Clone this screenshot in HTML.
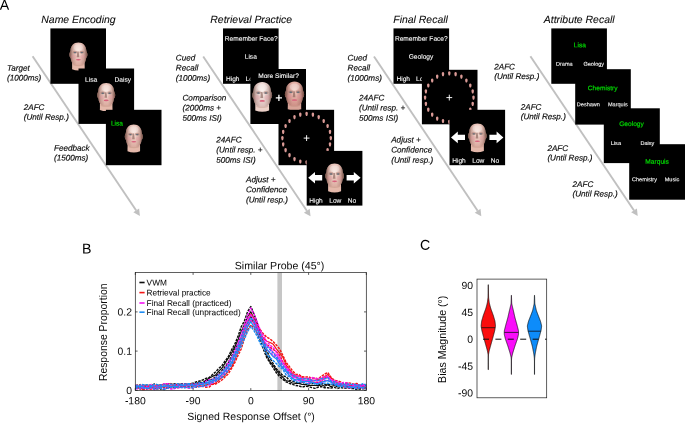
<!DOCTYPE html><html><head><meta charset="utf-8"><style>html,body{margin:0;padding:0;background:#fff;overflow:hidden}svg{display:block}text{font-family:"Liberation Sans",sans-serif}</style></head><body>
<svg width="685" height="423" viewBox="0 0 685 423">
<defs>
<radialGradient id="skin" cx="0.5" cy="0.34" r="0.7"><stop offset="0" stop-color="#f6e0d8"/><stop offset="0.55" stop-color="#e8c0b6"/><stop offset="1" stop-color="#d8a89c"/></radialGradient>
<radialGradient id="skin0" cx="0.5" cy="0.34" r="0.7"><stop offset="0" stop-color="#f8ece8"/><stop offset="0.55" stop-color="#ead2ce"/><stop offset="1" stop-color="#d8bab6"/></radialGradient>
<radialGradient id="skin2" cx="0.5" cy="0.34" r="0.7"><stop offset="0" stop-color="#f0ccc2"/><stop offset="0.55" stop-color="#dea69c"/><stop offset="1" stop-color="#cc8e84"/></radialGradient>
<linearGradient id="side" x1="0" x2="1" y1="0" y2="0"><stop offset="0" stop-color="#5c382e" stop-opacity="0.8"/><stop offset="0.2" stop-color="#5c382e" stop-opacity="0.18"/><stop offset="0.4" stop-color="#5c382e" stop-opacity="0"/><stop offset="0.6" stop-color="#5c382e" stop-opacity="0"/><stop offset="0.8" stop-color="#5c382e" stop-opacity="0.18"/><stop offset="1" stop-color="#5c382e" stop-opacity="0.8"/></linearGradient>
<filter id="soft" x="-2%" y="-2%" width="104%" height="104%"><feGaussianBlur stdDeviation="0.32"/></filter>
<filter id="fb" x="-20%" y="-20%" width="140%" height="140%"><feGaussianBlur stdDeviation="0.35"/></filter>
<g id="mf"><path d="M0,-2.1 C0.95,-2.1 1.25,-1.2 1.25,-0.3 C1.25,0.8 0.8,1.6 0.55,2.1 L-0.55,2.1 C-0.8,1.6 -1.25,0.8 -1.25,-0.3 C-1.25,-1.2 -0.95,-2.1 0,-2.1Z" fill="#da9a96"/></g>
</defs>
<g filter="url(#soft)">
<rect x="-5" y="-5" width="695" height="433" fill="#fff"/>
<text x="-0.2" y="9.65" transform="rotate(0.03 -0.2 9.65)" font-size="14.2" fill="#000" text-anchor="start">A</text>
<text x="82" y="253.5" transform="rotate(0.03 82 253.5)" font-size="14.2" fill="#000" text-anchor="start">B</text>
<text x="420" y="249.7" transform="rotate(0.03 420 249.7)" font-size="14.2" fill="#000" text-anchor="start">C</text>
<text x="41.3" y="23" transform="rotate(0.03 41.3 23)" font-size="10.45" fill="#0a0a0a" text-anchor="start" font-style="italic" stroke="#0a0a0a" stroke-width="0.08">Name Encoding</text>
<text x="210.3" y="23" transform="rotate(0.03 210.3 23)" font-size="10.45" fill="#0a0a0a" text-anchor="start" font-style="italic" stroke="#0a0a0a" stroke-width="0.08">Retrieval Practice</text>
<text x="393.3" y="23" transform="rotate(0.03 393.3 23)" font-size="10.45" fill="#0a0a0a" text-anchor="start" font-style="italic" stroke="#0a0a0a" stroke-width="0.08">Final Recall</text>
<text x="543.8" y="23" transform="rotate(0.03 543.8 23)" font-size="10.45" fill="#0a0a0a" text-anchor="start" font-style="italic" stroke="#0a0a0a" stroke-width="0.08">Attribute Recall</text>
<line x1="32.6" y1="56.2" x2="136.22" y2="210.42" stroke="#c0c0c0" stroke-width="1.9"/><polygon points="139.90,215.90 133.31,212.37 139.12,208.47" fill="#c0c0c0"/>
<line x1="203.2" y1="56.5" x2="306.82" y2="210.72" stroke="#c0c0c0" stroke-width="1.9"/><polygon points="310.50,216.20 303.91,212.67 309.72,208.77" fill="#c0c0c0"/>
<line x1="374" y1="56.5" x2="477.62" y2="210.72" stroke="#c0c0c0" stroke-width="1.9"/><polygon points="481.30,216.20 474.71,212.67 480.52,208.77" fill="#c0c0c0"/>
<line x1="530.4" y1="56.2" x2="634.02" y2="210.42" stroke="#c0c0c0" stroke-width="1.9"/><polygon points="637.70,215.90 631.11,212.37 636.92,208.47" fill="#c0c0c0"/>
<rect x="50.4" y="28.4" width="55.6" height="55.4" fill="#000"/>
<g transform="translate(78.4,54) scale(1.0)"><path d="M-6.2,6 L6.2,6 L6.3,15.3 Q0,17.7 -6.3,15.3Z" fill="#e4b8aa"/><ellipse cx="0" cy="10.6" rx="5.6" ry="1.6" fill="#a87868" opacity="0.28" filter="url(#fb)"/><path d="M0,-11.5 C4.8,-11.5 7.7,-8.2 7.9,-3.5 C8,-2 9,-1.6 9,0.5 C9,2.6 8.3,3.4 7.8,3.8 C7.5,6.6 6.7,8.8 4.8,10.2 C3,11.4 -3,11.4 -4.8,10.2 C-6.7,8.8 -7.5,6.6 -7.8,3.8 C-8.3,3.4 -9,2.6 -9,0.5 C-9,-1.6 -8,-2 -7.9,-3.5 C-7.7,-8.2 -4.8,-11.5 0,-11.5Z" fill="url(#skin)"/><path d="M0,-11.5 C4.8,-11.5 7.7,-8.2 7.9,-3.5 C8,-2 9,-1.6 9,0.5 C9,2.6 8.3,3.4 7.8,3.8 C7.5,6.6 6.7,8.8 4.8,10.2 C3,11.4 -3,11.4 -4.8,10.2 C-6.7,8.8 -7.5,6.6 -7.8,3.8 C-8.3,3.4 -9,2.6 -9,0.5 C-9,-1.6 -8,-2 -7.9,-3.5 C-7.7,-8.2 -4.8,-11.5 0,-11.5Z" fill="url(#side)"/><g filter="url(#fb)"><ellipse cx="0" cy="-6.5" rx="4.6" ry="3.2" fill="#fff" opacity="0.28"/><ellipse cx="-4.6" cy="2.6" rx="2.7" ry="2.2" fill="#e88a96" opacity="0.24"/><ellipse cx="4.6" cy="2.6" rx="2.7" ry="2.2" fill="#e88a96" opacity="0.24"/><ellipse cx="-3.4" cy="-1.7" rx="2.4" ry="1.3" fill="#9c6c62" opacity="0.55"/><ellipse cx="3.4" cy="-1.7" rx="2.4" ry="1.3" fill="#9c6c62" opacity="0.55"/><ellipse cx="-3.4" cy="-1.4" rx="1.3" ry="0.7" fill="#5e6c7a"/><ellipse cx="3.4" cy="-1.4" rx="1.3" ry="0.7" fill="#5e6c7a"/><path d="M-1.1,-2.4 L0.3,-2.4 L0.9,3.2 L-1.7,3.2Z" fill="#7e5850" opacity="0.6"/><ellipse cx="0" cy="5.8" rx="2.5" ry="0.8" fill="#d65c78" opacity="0.95"/></g></g>
<rect x="78.5" y="68.5" width="55.6" height="55.4" fill="#000"/>
<g transform="translate(106.2,94.6) scale(1.0)"><path d="M-6.2,6 L6.2,6 L6.3,15.3 Q0,17.7 -6.3,15.3Z" fill="#e4b8aa"/><ellipse cx="0" cy="10.6" rx="5.6" ry="1.6" fill="#a87868" opacity="0.28" filter="url(#fb)"/><path d="M0,-11.5 C4.8,-11.5 7.7,-8.2 7.9,-3.5 C8,-2 9,-1.6 9,0.5 C9,2.6 8.3,3.4 7.8,3.8 C7.5,6.6 6.7,8.8 4.8,10.2 C3,11.4 -3,11.4 -4.8,10.2 C-6.7,8.8 -7.5,6.6 -7.8,3.8 C-8.3,3.4 -9,2.6 -9,0.5 C-9,-1.6 -8,-2 -7.9,-3.5 C-7.7,-8.2 -4.8,-11.5 0,-11.5Z" fill="url(#skin)"/><path d="M0,-11.5 C4.8,-11.5 7.7,-8.2 7.9,-3.5 C8,-2 9,-1.6 9,0.5 C9,2.6 8.3,3.4 7.8,3.8 C7.5,6.6 6.7,8.8 4.8,10.2 C3,11.4 -3,11.4 -4.8,10.2 C-6.7,8.8 -7.5,6.6 -7.8,3.8 C-8.3,3.4 -9,2.6 -9,0.5 C-9,-1.6 -8,-2 -7.9,-3.5 C-7.7,-8.2 -4.8,-11.5 0,-11.5Z" fill="url(#side)"/><g filter="url(#fb)"><ellipse cx="0" cy="-6.5" rx="4.6" ry="3.2" fill="#fff" opacity="0.28"/><ellipse cx="-4.6" cy="2.6" rx="2.7" ry="2.2" fill="#e88a96" opacity="0.24"/><ellipse cx="4.6" cy="2.6" rx="2.7" ry="2.2" fill="#e88a96" opacity="0.24"/><ellipse cx="-3.4" cy="-1.7" rx="2.4" ry="1.3" fill="#9c6c62" opacity="0.55"/><ellipse cx="3.4" cy="-1.7" rx="2.4" ry="1.3" fill="#9c6c62" opacity="0.55"/><ellipse cx="-3.4" cy="-1.4" rx="1.3" ry="0.7" fill="#5e6c7a"/><ellipse cx="3.4" cy="-1.4" rx="1.3" ry="0.7" fill="#5e6c7a"/><path d="M-1.1,-2.4 L0.3,-2.4 L0.9,3.2 L-1.7,3.2Z" fill="#7e5850" opacity="0.6"/><ellipse cx="0" cy="5.8" rx="2.5" ry="0.8" fill="#d65c78" opacity="0.95"/></g></g>
<text x="91.1" y="81.65" transform="rotate(0.03 91.1 81.65)" font-size="6.6" fill="#fff" text-anchor="middle" stroke="#fff" stroke-width="0.09">Lisa</text>
<text x="122.8" y="81.65" transform="rotate(0.03 122.8 81.65)" font-size="6.6" fill="#fff" text-anchor="middle" stroke="#fff" stroke-width="0.09">Daisy</text>
<rect x="105.9" y="109.8" width="55.6" height="55.4" fill="#000"/>
<g transform="translate(133.8,136) scale(1.0)"><path d="M-6.2,6 L6.2,6 L6.3,15.3 Q0,17.7 -6.3,15.3Z" fill="#e4b8aa"/><ellipse cx="0" cy="10.6" rx="5.6" ry="1.6" fill="#a87868" opacity="0.28" filter="url(#fb)"/><path d="M0,-11.5 C4.8,-11.5 7.7,-8.2 7.9,-3.5 C8,-2 9,-1.6 9,0.5 C9,2.6 8.3,3.4 7.8,3.8 C7.5,6.6 6.7,8.8 4.8,10.2 C3,11.4 -3,11.4 -4.8,10.2 C-6.7,8.8 -7.5,6.6 -7.8,3.8 C-8.3,3.4 -9,2.6 -9,0.5 C-9,-1.6 -8,-2 -7.9,-3.5 C-7.7,-8.2 -4.8,-11.5 0,-11.5Z" fill="url(#skin)"/><path d="M0,-11.5 C4.8,-11.5 7.7,-8.2 7.9,-3.5 C8,-2 9,-1.6 9,0.5 C9,2.6 8.3,3.4 7.8,3.8 C7.5,6.6 6.7,8.8 4.8,10.2 C3,11.4 -3,11.4 -4.8,10.2 C-6.7,8.8 -7.5,6.6 -7.8,3.8 C-8.3,3.4 -9,2.6 -9,0.5 C-9,-1.6 -8,-2 -7.9,-3.5 C-7.7,-8.2 -4.8,-11.5 0,-11.5Z" fill="url(#side)"/><g filter="url(#fb)"><ellipse cx="0" cy="-6.5" rx="4.6" ry="3.2" fill="#fff" opacity="0.28"/><ellipse cx="-4.6" cy="2.6" rx="2.7" ry="2.2" fill="#e88a96" opacity="0.24"/><ellipse cx="4.6" cy="2.6" rx="2.7" ry="2.2" fill="#e88a96" opacity="0.24"/><ellipse cx="-3.4" cy="-1.7" rx="2.4" ry="1.3" fill="#9c6c62" opacity="0.55"/><ellipse cx="3.4" cy="-1.7" rx="2.4" ry="1.3" fill="#9c6c62" opacity="0.55"/><ellipse cx="-3.4" cy="-1.4" rx="1.3" ry="0.7" fill="#5e6c7a"/><ellipse cx="3.4" cy="-1.4" rx="1.3" ry="0.7" fill="#5e6c7a"/><path d="M-1.1,-2.4 L0.3,-2.4 L0.9,3.2 L-1.7,3.2Z" fill="#7e5850" opacity="0.6"/><ellipse cx="0" cy="5.8" rx="2.5" ry="0.8" fill="#d65c78" opacity="0.95"/></g></g>
<text x="117" y="125.45" transform="rotate(0.03 117 125.45)" font-size="6.6" fill="#00d800" text-anchor="middle" stroke="#00d800" stroke-width="0.2">Lisa</text>
<text x="7" y="70.7" transform="rotate(0.03 7 70.7)" font-size="8.15" fill="#0a0a0a" text-anchor="start" font-style="italic" stroke="#0a0a0a" stroke-width="0.16">Target</text><text x="7" y="80.45" transform="rotate(0.03 7 80.45)" font-size="8.15" fill="#0a0a0a" text-anchor="start" font-style="italic" stroke="#0a0a0a" stroke-width="0.16">(1000ms)</text>
<text x="23.7" y="110.0" transform="rotate(0.03 23.7 110.0)" font-size="8.15" fill="#0a0a0a" text-anchor="start" font-style="italic" stroke="#0a0a0a" stroke-width="0.16">2AFC</text><text x="23.7" y="119.75" transform="rotate(0.03 23.7 119.75)" font-size="8.15" fill="#0a0a0a" text-anchor="start" font-style="italic" stroke="#0a0a0a" stroke-width="0.16">(Until Resp.)</text>
<text x="54" y="150.7" transform="rotate(0.03 54 150.7)" font-size="8.15" fill="#0a0a0a" text-anchor="start" font-style="italic" stroke="#0a0a0a" stroke-width="0.16">Feedback</text><text x="54" y="160.45" transform="rotate(0.03 54 160.45)" font-size="8.15" fill="#0a0a0a" text-anchor="start" font-style="italic" stroke="#0a0a0a" stroke-width="0.16">(1500ms)</text>
<rect x="223" y="28.4" width="55.6" height="55.4" fill="#000"/>
<text x="251.2" y="40.75" transform="rotate(0.03 251.2 40.75)" font-size="6.6" fill="#fff" text-anchor="middle" stroke="#fff" stroke-width="0.09">Remember Face?</text>
<text x="250.8" y="58.85" transform="rotate(0.03 250.8 58.85)" font-size="6.6" fill="#fff" text-anchor="middle" stroke="#fff" stroke-width="0.09">Lisa</text>
<text x="232.7" y="80.95" transform="rotate(0.03 232.7 80.95)" font-size="6.6" fill="#fff" text-anchor="middle" stroke="#fff" stroke-width="0.09">High</text>
<text x="245.6" y="80.9" transform="rotate(0.03 245.6 80.9)" font-size="6.6" fill="#fff" text-anchor="start" stroke="#fff" stroke-width="0.09">Low</text>
<rect x="250.4" y="69.0" width="55.6" height="55" fill="#000"/>
<text x="278.5" y="78.05" transform="rotate(0.03 278.5 78.05)" font-size="6.6" fill="#fff" text-anchor="middle" stroke="#fff" stroke-width="0.09">More Similar?</text>
<g transform="translate(262.2,94.55) scale(1.1)"><path d="M-6.2,6 L6.2,6 L6.3,14.4 Q0,16.8 -6.3,14.4Z" fill="#ecd0c8"/><ellipse cx="0" cy="10.6" rx="5.6" ry="1.6" fill="#a87868" opacity="0.28" filter="url(#fb)"/><path d="M0,-11.5 C4.8,-11.5 7.7,-8.2 7.9,-3.5 C8,-2 9,-1.6 9,0.5 C9,2.6 8.3,3.4 7.8,3.8 C7.5,6.6 6.7,8.8 4.8,10.2 C3,11.4 -3,11.4 -4.8,10.2 C-6.7,8.8 -7.5,6.6 -7.8,3.8 C-8.3,3.4 -9,2.6 -9,0.5 C-9,-1.6 -8,-2 -7.9,-3.5 C-7.7,-8.2 -4.8,-11.5 0,-11.5Z" fill="url(#skin0)"/><path d="M0,-11.5 C4.8,-11.5 7.7,-8.2 7.9,-3.5 C8,-2 9,-1.6 9,0.5 C9,2.6 8.3,3.4 7.8,3.8 C7.5,6.6 6.7,8.8 4.8,10.2 C3,11.4 -3,11.4 -4.8,10.2 C-6.7,8.8 -7.5,6.6 -7.8,3.8 C-8.3,3.4 -9,2.6 -9,0.5 C-9,-1.6 -8,-2 -7.9,-3.5 C-7.7,-8.2 -4.8,-11.5 0,-11.5Z" fill="url(#side)"/><g filter="url(#fb)"><ellipse cx="0" cy="-6.5" rx="4.6" ry="3.2" fill="#fff" opacity="0.28"/><ellipse cx="-4.6" cy="2.6" rx="2.7" ry="2.2" fill="#e88a96" opacity="0.24"/><ellipse cx="4.6" cy="2.6" rx="2.7" ry="2.2" fill="#e88a96" opacity="0.24"/><ellipse cx="-3.4" cy="-1.7" rx="2.4" ry="1.3" fill="#9c6c62" opacity="0.55"/><ellipse cx="3.4" cy="-1.7" rx="2.4" ry="1.3" fill="#9c6c62" opacity="0.55"/><ellipse cx="-3.4" cy="-1.4" rx="1.3" ry="0.7" fill="#5e6c7a"/><ellipse cx="3.4" cy="-1.4" rx="1.3" ry="0.7" fill="#5e6c7a"/><path d="M-1.1,-2.4 L0.3,-2.4 L0.9,3.2 L-1.7,3.2Z" fill="#7e5850" opacity="0.6"/><ellipse cx="0" cy="5.8" rx="2.5" ry="0.8" fill="#d65c78" opacity="0.95"/></g></g>
<g transform="translate(294.5,93.8) scale(1.07)"><path d="M-6.2,6 L6.2,6 L6.3,14.4 Q0,16.8 -6.3,14.4Z" fill="#d8a498"/><ellipse cx="0" cy="10.6" rx="5.6" ry="1.6" fill="#a87868" opacity="0.28" filter="url(#fb)"/><path d="M0,-11.5 C4.8,-11.5 7.7,-8.2 7.9,-3.5 C8,-2 9,-1.6 9,0.5 C9,2.6 8.3,3.4 7.8,3.8 C7.5,6.6 6.7,8.8 4.8,10.2 C3,11.4 -3,11.4 -4.8,10.2 C-6.7,8.8 -7.5,6.6 -7.8,3.8 C-8.3,3.4 -9,2.6 -9,0.5 C-9,-1.6 -8,-2 -7.9,-3.5 C-7.7,-8.2 -4.8,-11.5 0,-11.5Z" fill="url(#skin2)"/><path d="M0,-11.5 C4.8,-11.5 7.7,-8.2 7.9,-3.5 C8,-2 9,-1.6 9,0.5 C9,2.6 8.3,3.4 7.8,3.8 C7.5,6.6 6.7,8.8 4.8,10.2 C3,11.4 -3,11.4 -4.8,10.2 C-6.7,8.8 -7.5,6.6 -7.8,3.8 C-8.3,3.4 -9,2.6 -9,0.5 C-9,-1.6 -8,-2 -7.9,-3.5 C-7.7,-8.2 -4.8,-11.5 0,-11.5Z" fill="url(#side)"/><g filter="url(#fb)"><ellipse cx="0" cy="-6.5" rx="4.6" ry="3.2" fill="#fff" opacity="0.28"/><ellipse cx="-4.6" cy="2.6" rx="2.7" ry="2.2" fill="#e88a96" opacity="0.24"/><ellipse cx="4.6" cy="2.6" rx="2.7" ry="2.2" fill="#e88a96" opacity="0.24"/><ellipse cx="-3.4" cy="-1.7" rx="2.4" ry="1.3" fill="#9c6c62" opacity="0.55"/><ellipse cx="3.4" cy="-1.7" rx="2.4" ry="1.3" fill="#9c6c62" opacity="0.55"/><ellipse cx="-3.4" cy="-1.4" rx="1.3" ry="0.7" fill="#5e6c7a"/><ellipse cx="3.4" cy="-1.4" rx="1.3" ry="0.7" fill="#5e6c7a"/><path d="M-1.1,-2.4 L0.3,-2.4 L0.9,3.2 L-1.7,3.2Z" fill="#7e5850" opacity="0.6"/><ellipse cx="0" cy="5.8" rx="2.5" ry="0.8" fill="#d65c78" opacity="0.95"/></g></g>
<path d="M275.79999999999995,97.9 H282.0 M278.9,94.80000000000001 V101.0" stroke="#fff" stroke-width="1.3"/>
<rect x="278.5" y="109.8" width="55.6" height="55.4" fill="#000"/>
<use href="#mf" x="330.8" y="138.1"/><use href="#mf" x="330.0" y="144.4"/><use href="#mf" x="327.6" y="150.2"/><use href="#mf" x="323.7" y="155.2"/><use href="#mf" x="318.7" y="159.1"/><use href="#mf" x="312.9" y="161.5"/><use href="#mf" x="306.6" y="162.3"/><use href="#mf" x="300.3" y="161.5"/><use href="#mf" x="294.5" y="159.1"/><use href="#mf" x="289.5" y="155.2"/><use href="#mf" x="285.6" y="150.2"/><use href="#mf" x="283.2" y="144.4"/><use href="#mf" x="282.4" y="138.1"/><use href="#mf" x="283.2" y="131.8"/><use href="#mf" x="285.6" y="126.0"/><use href="#mf" x="289.5" y="121.0"/><use href="#mf" x="294.5" y="117.1"/><use href="#mf" x="300.3" y="114.7"/><use href="#mf" x="306.6" y="113.9"/><use href="#mf" x="312.9" y="114.7"/><use href="#mf" x="318.7" y="117.1"/><use href="#mf" x="323.7" y="121.0"/><use href="#mf" x="327.6" y="126.0"/><use href="#mf" x="330.0" y="131.8"/>
<path d="M303.70000000000005,138.1 H309.5 M306.6,135.2 V141.0" stroke="#fff" stroke-width="0.95"/>
<rect x="306.7" y="150.9" width="55.7" height="54.7" fill="#000"/>
<polygon points="322.2,175.1 315.0,175.1 315.0,172.0 308.2,177.8 315.0,183.6 315.0,180.5 322.2,180.5" fill="#fff"/>
<polygon points="346.6,175.1 353.8,175.1 353.8,172.0 360.6,177.8 353.8,183.6 353.8,180.5 346.6,180.5" fill="#fff"/>
<g transform="translate(334.6,175.4) scale(1.03)"><path d="M-6.2,6 L6.2,6 L6.3,15.3 Q0,17.7 -6.3,15.3Z" fill="#e4b8aa"/><ellipse cx="0" cy="10.6" rx="5.6" ry="1.6" fill="#a87868" opacity="0.28" filter="url(#fb)"/><path d="M0,-11.5 C4.8,-11.5 7.7,-8.2 7.9,-3.5 C8,-2 9,-1.6 9,0.5 C9,2.6 8.3,3.4 7.8,3.8 C7.5,6.6 6.7,8.8 4.8,10.2 C3,11.4 -3,11.4 -4.8,10.2 C-6.7,8.8 -7.5,6.6 -7.8,3.8 C-8.3,3.4 -9,2.6 -9,0.5 C-9,-1.6 -8,-2 -7.9,-3.5 C-7.7,-8.2 -4.8,-11.5 0,-11.5Z" fill="url(#skin)"/><path d="M0,-11.5 C4.8,-11.5 7.7,-8.2 7.9,-3.5 C8,-2 9,-1.6 9,0.5 C9,2.6 8.3,3.4 7.8,3.8 C7.5,6.6 6.7,8.8 4.8,10.2 C3,11.4 -3,11.4 -4.8,10.2 C-6.7,8.8 -7.5,6.6 -7.8,3.8 C-8.3,3.4 -9,2.6 -9,0.5 C-9,-1.6 -8,-2 -7.9,-3.5 C-7.7,-8.2 -4.8,-11.5 0,-11.5Z" fill="url(#side)"/><g filter="url(#fb)"><ellipse cx="0" cy="-6.5" rx="4.6" ry="3.2" fill="#fff" opacity="0.28"/><ellipse cx="-4.6" cy="2.6" rx="2.7" ry="2.2" fill="#e88a96" opacity="0.24"/><ellipse cx="4.6" cy="2.6" rx="2.7" ry="2.2" fill="#e88a96" opacity="0.24"/><ellipse cx="-3.4" cy="-1.7" rx="2.4" ry="1.3" fill="#9c6c62" opacity="0.55"/><ellipse cx="3.4" cy="-1.7" rx="2.4" ry="1.3" fill="#9c6c62" opacity="0.55"/><ellipse cx="-3.4" cy="-1.4" rx="1.3" ry="0.7" fill="#5e6c7a"/><ellipse cx="3.4" cy="-1.4" rx="1.3" ry="0.7" fill="#5e6c7a"/><path d="M-1.1,-2.4 L0.3,-2.4 L0.9,3.2 L-1.7,3.2Z" fill="#7e5850" opacity="0.6"/><ellipse cx="0" cy="5.8" rx="2.5" ry="0.8" fill="#d65c78" opacity="0.95"/></g></g>
<text x="316" y="202.85" transform="rotate(0.03 316 202.85)" font-size="6.6" fill="#fff" text-anchor="middle" stroke="#fff" stroke-width="0.09">High</text>
<text x="335.3" y="202.85" transform="rotate(0.03 335.3 202.85)" font-size="6.6" fill="#fff" text-anchor="middle" stroke="#fff" stroke-width="0.09">Low</text>
<text x="352" y="202.85" transform="rotate(0.03 352 202.85)" font-size="6.6" fill="#fff" text-anchor="middle" stroke="#fff" stroke-width="0.09">No</text>
<text x="175.8" y="60.5" transform="rotate(0.03 175.8 60.5)" font-size="8.15" fill="#0a0a0a" text-anchor="start" font-style="italic" stroke="#0a0a0a" stroke-width="0.16">Cued</text><text x="175.8" y="70.4" transform="rotate(0.03 175.8 70.4)" font-size="8.15" fill="#0a0a0a" text-anchor="start" font-style="italic" stroke="#0a0a0a" stroke-width="0.16">Recall</text><text x="175.8" y="80.7" transform="rotate(0.03 175.8 80.7)" font-size="8.15" fill="#0a0a0a" text-anchor="start" font-style="italic" stroke="#0a0a0a" stroke-width="0.16">(1000ms)</text>
<text x="182.5" y="100.6" transform="rotate(0.03 182.5 100.6)" font-size="8.15" fill="#0a0a0a" text-anchor="start" font-style="italic" stroke="#0a0a0a" stroke-width="0.16">Comparison</text><text x="182.5" y="110.5" transform="rotate(0.03 182.5 110.5)" font-size="8.15" fill="#0a0a0a" text-anchor="start" font-style="italic" stroke="#0a0a0a" stroke-width="0.16">(2000ms +</text><text x="182.5" y="120.8" transform="rotate(0.03 182.5 120.8)" font-size="8.15" fill="#0a0a0a" text-anchor="start" font-style="italic" stroke="#0a0a0a" stroke-width="0.16">500ms ISI)</text>
<text x="216.3" y="142.6" transform="rotate(0.03 216.3 142.6)" font-size="8.15" fill="#0a0a0a" text-anchor="start" font-style="italic" stroke="#0a0a0a" stroke-width="0.16">24AFC</text><text x="216.3" y="152.5" transform="rotate(0.03 216.3 152.5)" font-size="8.15" fill="#0a0a0a" text-anchor="start" font-style="italic" stroke="#0a0a0a" stroke-width="0.16">(Until resp. +</text><text x="216.3" y="162.8" transform="rotate(0.03 216.3 162.8)" font-size="8.15" fill="#0a0a0a" text-anchor="start" font-style="italic" stroke="#0a0a0a" stroke-width="0.16">500ms ISI)</text>
<text x="246" y="182.3" transform="rotate(0.03 246 182.3)" font-size="8.15" fill="#0a0a0a" text-anchor="start" font-style="italic" stroke="#0a0a0a" stroke-width="0.16">Adjust +</text><text x="246" y="192.2" transform="rotate(0.03 246 192.2)" font-size="8.15" fill="#0a0a0a" text-anchor="start" font-style="italic" stroke="#0a0a0a" stroke-width="0.16">Confidence</text><text x="246" y="202.5" transform="rotate(0.03 246 202.5)" font-size="8.15" fill="#0a0a0a" text-anchor="start" font-style="italic" stroke="#0a0a0a" stroke-width="0.16">(Until resp.)</text>
<rect x="393.5" y="28.4" width="55.6" height="55.4" fill="#000"/>
<text x="421.3" y="40.75" transform="rotate(0.03 421.3 40.75)" font-size="6.6" fill="#fff" text-anchor="middle" stroke="#fff" stroke-width="0.09">Remember Face?</text>
<text x="421" y="58.85" transform="rotate(0.03 421 58.85)" font-size="6.6" fill="#fff" text-anchor="middle" stroke="#fff" stroke-width="0.09">Geology</text>
<text x="403.2" y="80.95" transform="rotate(0.03 403.2 80.95)" font-size="6.6" fill="#fff" text-anchor="middle" stroke="#fff" stroke-width="0.09">High</text>
<text x="416" y="80.9" transform="rotate(0.03 416 80.9)" font-size="6.6" fill="#fff" text-anchor="start" stroke="#fff" stroke-width="0.09">Low</text>
<rect x="421.9" y="69.8" width="55.6" height="54.5" fill="#000"/>
<use href="#mf" x="473.5" y="97.6"/><use href="#mf" x="472.7" y="103.9"/><use href="#mf" x="470.3" y="109.7"/><use href="#mf" x="466.4" y="114.7"/><use href="#mf" x="461.4" y="118.6"/><use href="#mf" x="455.6" y="121.0"/><use href="#mf" x="449.3" y="121.8"/><use href="#mf" x="443.0" y="121.0"/><use href="#mf" x="437.2" y="118.6"/><use href="#mf" x="432.2" y="114.7"/><use href="#mf" x="428.3" y="109.7"/><use href="#mf" x="425.9" y="103.9"/><use href="#mf" x="425.1" y="97.6"/><use href="#mf" x="425.9" y="91.3"/><use href="#mf" x="428.3" y="85.5"/><use href="#mf" x="432.2" y="80.5"/><use href="#mf" x="437.2" y="76.6"/><use href="#mf" x="443.0" y="74.2"/><use href="#mf" x="449.3" y="73.4"/><use href="#mf" x="455.6" y="74.2"/><use href="#mf" x="461.4" y="76.6"/><use href="#mf" x="466.4" y="80.5"/><use href="#mf" x="470.3" y="85.5"/><use href="#mf" x="472.7" y="91.3"/>
<path d="M446.40000000000003,97.6 H452.2 M449.3,94.69999999999999 V100.5" stroke="#fff" stroke-width="0.95"/>
<rect x="449.5" y="109.8" width="55.6" height="55.4" fill="#000"/>
<polygon points="465.0,134.7 457.8,134.7 457.8,131.6 451.0,137.4 457.8,143.2 457.8,140.1 465.0,140.1" fill="#fff"/>
<polygon points="489.4,134.7 496.6,134.7 496.6,131.6 503.4,137.4 496.6,143.2 496.6,140.1 489.4,140.1" fill="#fff"/>
<g transform="translate(477.4,135.3) scale(1.03)"><path d="M-6.2,6 L6.2,6 L6.3,15.3 Q0,17.7 -6.3,15.3Z" fill="#e4b8aa"/><ellipse cx="0" cy="10.6" rx="5.6" ry="1.6" fill="#a87868" opacity="0.28" filter="url(#fb)"/><path d="M0,-11.5 C4.8,-11.5 7.7,-8.2 7.9,-3.5 C8,-2 9,-1.6 9,0.5 C9,2.6 8.3,3.4 7.8,3.8 C7.5,6.6 6.7,8.8 4.8,10.2 C3,11.4 -3,11.4 -4.8,10.2 C-6.7,8.8 -7.5,6.6 -7.8,3.8 C-8.3,3.4 -9,2.6 -9,0.5 C-9,-1.6 -8,-2 -7.9,-3.5 C-7.7,-8.2 -4.8,-11.5 0,-11.5Z" fill="url(#skin)"/><path d="M0,-11.5 C4.8,-11.5 7.7,-8.2 7.9,-3.5 C8,-2 9,-1.6 9,0.5 C9,2.6 8.3,3.4 7.8,3.8 C7.5,6.6 6.7,8.8 4.8,10.2 C3,11.4 -3,11.4 -4.8,10.2 C-6.7,8.8 -7.5,6.6 -7.8,3.8 C-8.3,3.4 -9,2.6 -9,0.5 C-9,-1.6 -8,-2 -7.9,-3.5 C-7.7,-8.2 -4.8,-11.5 0,-11.5Z" fill="url(#side)"/><g filter="url(#fb)"><ellipse cx="0" cy="-6.5" rx="4.6" ry="3.2" fill="#fff" opacity="0.28"/><ellipse cx="-4.6" cy="2.6" rx="2.7" ry="2.2" fill="#e88a96" opacity="0.24"/><ellipse cx="4.6" cy="2.6" rx="2.7" ry="2.2" fill="#e88a96" opacity="0.24"/><ellipse cx="-3.4" cy="-1.7" rx="2.4" ry="1.3" fill="#9c6c62" opacity="0.55"/><ellipse cx="3.4" cy="-1.7" rx="2.4" ry="1.3" fill="#9c6c62" opacity="0.55"/><ellipse cx="-3.4" cy="-1.4" rx="1.3" ry="0.7" fill="#5e6c7a"/><ellipse cx="3.4" cy="-1.4" rx="1.3" ry="0.7" fill="#5e6c7a"/><path d="M-1.1,-2.4 L0.3,-2.4 L0.9,3.2 L-1.7,3.2Z" fill="#7e5850" opacity="0.6"/><ellipse cx="0" cy="5.8" rx="2.5" ry="0.8" fill="#d65c78" opacity="0.95"/></g></g>
<text x="459" y="162.65" transform="rotate(0.03 459 162.65)" font-size="6.6" fill="#fff" text-anchor="middle" stroke="#fff" stroke-width="0.09">High</text>
<text x="478.3" y="162.65" transform="rotate(0.03 478.3 162.65)" font-size="6.6" fill="#fff" text-anchor="middle" stroke="#fff" stroke-width="0.09">Low</text>
<text x="495" y="162.65" transform="rotate(0.03 495 162.65)" font-size="6.6" fill="#fff" text-anchor="middle" stroke="#fff" stroke-width="0.09">No</text>
<text x="347.6" y="60.5" transform="rotate(0.03 347.6 60.5)" font-size="8.15" fill="#0a0a0a" text-anchor="start" font-style="italic" stroke="#0a0a0a" stroke-width="0.16">Cued</text><text x="347.6" y="70.4" transform="rotate(0.03 347.6 70.4)" font-size="8.15" fill="#0a0a0a" text-anchor="start" font-style="italic" stroke="#0a0a0a" stroke-width="0.16">Recall</text><text x="347.6" y="80.7" transform="rotate(0.03 347.6 80.7)" font-size="8.15" fill="#0a0a0a" text-anchor="start" font-style="italic" stroke="#0a0a0a" stroke-width="0.16">(1000ms)</text>
<text x="359" y="100.6" transform="rotate(0.03 359 100.6)" font-size="8.15" fill="#0a0a0a" text-anchor="start" font-style="italic" stroke="#0a0a0a" stroke-width="0.16">24AFC</text><text x="359" y="110.5" transform="rotate(0.03 359 110.5)" font-size="8.15" fill="#0a0a0a" text-anchor="start" font-style="italic" stroke="#0a0a0a" stroke-width="0.16">(Until resp. +</text><text x="359" y="120.8" transform="rotate(0.03 359 120.8)" font-size="8.15" fill="#0a0a0a" text-anchor="start" font-style="italic" stroke="#0a0a0a" stroke-width="0.16">500ms ISI)</text>
<text x="391.2" y="142.6" transform="rotate(0.03 391.2 142.6)" font-size="8.15" fill="#0a0a0a" text-anchor="start" font-style="italic" stroke="#0a0a0a" stroke-width="0.16">Adjust +</text><text x="391.2" y="152.5" transform="rotate(0.03 391.2 152.5)" font-size="8.15" fill="#0a0a0a" text-anchor="start" font-style="italic" stroke="#0a0a0a" stroke-width="0.16">Confidence</text><text x="391.2" y="162.8" transform="rotate(0.03 391.2 162.8)" font-size="8.15" fill="#0a0a0a" text-anchor="start" font-style="italic" stroke="#0a0a0a" stroke-width="0.16">(Until resp.)</text>
<rect x="551.3" y="28.4" width="55.6" height="55.4" fill="#000"/>
<rect x="575.2" y="69.2" width="55.6" height="55.4" fill="#000"/>
<rect x="603.8" y="108.3" width="56" height="54.8" fill="#000"/>
<rect x="629.2" y="144.2" width="60" height="55.5" fill="#000"/>
<text x="579.9" y="47.15" transform="rotate(0.03 579.9 47.15)" font-size="6.6" fill="#00d800" text-anchor="middle" stroke="#00d800" stroke-width="0.2">Lisa</text>
<text x="564.3" y="65.85" transform="rotate(0.03 564.3 65.85)" font-size="5.55" fill="#fff" text-anchor="middle" stroke="#fff" stroke-width="0.09">Drama</text>
<text x="593.8" y="65.85" transform="rotate(0.03 593.8 65.85)" font-size="5.55" fill="#fff" text-anchor="middle" stroke="#fff" stroke-width="0.09">Geology</text>
<text x="602.7" y="90.15" transform="rotate(0.03 602.7 90.15)" font-size="6.6" fill="#00d800" text-anchor="middle" stroke="#00d800" stroke-width="0.2">Chemistry</text>
<text x="588.4" y="106.15" transform="rotate(0.03 588.4 106.15)" font-size="5.55" fill="#fff" text-anchor="middle" stroke="#fff" stroke-width="0.09">Deshawn</text>
<text x="617.8" y="106.15" transform="rotate(0.03 617.8 106.15)" font-size="5.55" fill="#fff" text-anchor="middle" stroke="#fff" stroke-width="0.09">Marquis</text>
<text x="631.5" y="126.05" transform="rotate(0.03 631.5 126.05)" font-size="6.6" fill="#00d800" text-anchor="middle" stroke="#00d800" stroke-width="0.2">Geology</text>
<text x="615.9" y="144.95" transform="rotate(0.03 615.9 144.95)" font-size="5.55" fill="#fff" text-anchor="middle" stroke="#fff" stroke-width="0.09">Lisa</text>
<text x="647.4" y="144.95" transform="rotate(0.03 647.4 144.95)" font-size="5.55" fill="#fff" text-anchor="middle" stroke="#fff" stroke-width="0.09">Daisy</text>
<text x="657.1" y="163.85" transform="rotate(0.03 657.1 163.85)" font-size="6.6" fill="#00d800" text-anchor="middle" stroke="#00d800" stroke-width="0.2">Marquis</text>
<text x="644.5" y="181.15" transform="rotate(0.03 644.5 181.15)" font-size="5.55" fill="#fff" text-anchor="middle" stroke="#fff" stroke-width="0.09">Chemistry</text>
<text x="672" y="181.15" transform="rotate(0.03 672 181.15)" font-size="5.55" fill="#fff" text-anchor="middle" stroke="#fff" stroke-width="0.09">Music</text>
<text x="494.2" y="69.5" transform="rotate(0.03 494.2 69.5)" font-size="8.15" fill="#0a0a0a" text-anchor="start" font-style="italic" stroke="#0a0a0a" stroke-width="0.16">2AFC</text><text x="494.2" y="79.1" transform="rotate(0.03 494.2 79.1)" font-size="8.15" fill="#0a0a0a" text-anchor="start" font-style="italic" stroke="#0a0a0a" stroke-width="0.16">(Until Resp.)</text>
<text x="520.7" y="109.7" transform="rotate(0.03 520.7 109.7)" font-size="8.15" fill="#0a0a0a" text-anchor="start" font-style="italic" stroke="#0a0a0a" stroke-width="0.16">2AFC</text><text x="520.7" y="119.2" transform="rotate(0.03 520.7 119.2)" font-size="8.15" fill="#0a0a0a" text-anchor="start" font-style="italic" stroke="#0a0a0a" stroke-width="0.16">(Until Resp.)</text>
<text x="547.4" y="151.1" transform="rotate(0.03 547.4 151.1)" font-size="8.15" fill="#0a0a0a" text-anchor="start" font-style="italic" stroke="#0a0a0a" stroke-width="0.16">2AFC</text><text x="547.4" y="160.5" transform="rotate(0.03 547.4 160.5)" font-size="8.15" fill="#0a0a0a" text-anchor="start" font-style="italic" stroke="#0a0a0a" stroke-width="0.16">(Until Resp.)</text>
<text x="572.5" y="187.0" transform="rotate(0.03 572.5 187.0)" font-size="8.15" fill="#0a0a0a" text-anchor="start" font-style="italic" stroke="#0a0a0a" stroke-width="0.16">2AFC</text><text x="572.5" y="196.5" transform="rotate(0.03 572.5 196.5)" font-size="8.15" fill="#0a0a0a" text-anchor="start" font-style="italic" stroke="#0a0a0a" stroke-width="0.16">(Until Resp.)</text>
<rect x="277.4" y="272.6" width="4.6" height="117.8" fill="#c6c6c6"/>
<g clip-path="none">
<polyline points="135.3,385.6 138.5,384.8 141.7,386.2 144.9,384.9 148.1,385.6 151.3,385.5 154.6,384.0 157.8,384.9 161.0,384.9 164.2,384.2 167.4,383.8 170.6,384.3 173.8,383.7 177.0,384.5 180.2,383.9 183.4,383.6 186.6,383.9 189.8,383.7 193.1,383.3 196.3,381.8 199.5,381.0 202.7,380.0 205.9,378.4 209.1,377.6 212.3,374.8 215.5,372.0 218.7,368.5 221.9,365.7 225.1,361.0 228.3,356.8 231.6,349.9 234.8,344.2 238.0,336.4 241.2,326.9 244.4,321.0 247.6,311.6 250.8,306.6 254.0,314.0 257.2,323.1 260.4,332.9 263.6,341.8 266.8,350.8 270.1,358.1 273.3,364.0 276.5,369.0 279.7,372.2 282.9,375.7 286.1,376.8 289.3,380.4 292.5,381.2 295.7,382.1 298.9,383.5 302.1,381.5 305.3,384.6 308.6,383.5 311.8,383.9 315.0,382.7 318.2,385.1 321.4,383.4 324.6,384.6 327.8,384.4 331.0,384.9 334.2,384.2 337.4,385.4 340.6,384.9 343.8,384.8 347.1,384.0 350.3,386.7 353.5,384.4 356.7,384.8 359.9,385.8 363.1,385.3 366.3,385.9" fill="none" stroke="#0c0c0c" stroke-width="1.45" stroke-linejoin="round" stroke-dasharray="2.6,1.0"/>
<polyline points="135.3,387.7 138.5,388.6 141.7,388.8 144.9,388.7 148.1,388.6 151.3,388.5 154.6,388.9 157.8,386.9 161.0,389.2 164.2,389.6 167.4,387.7 170.6,387.6 173.8,387.1 177.0,387.2 180.2,387.0 183.4,386.5 186.6,385.8 189.8,386.3 193.1,385.9 196.3,383.9 199.5,384.0 202.7,384.1 205.9,380.8 209.1,380.2 212.3,379.2 215.5,377.2 218.7,373.4 221.9,370.7 225.1,366.8 228.3,362.3 231.6,356.4 234.8,349.3 238.0,343.6 241.2,337.1 244.4,328.5 247.6,322.1 250.8,316.8 254.0,322.9 257.2,332.5 260.4,341.4 263.6,349.7 266.8,357.8 270.1,363.0 273.3,367.9 276.5,373.0 279.7,376.7 282.9,379.4 286.1,381.8 289.3,383.4 292.5,384.4 295.7,385.5 298.9,385.9 302.1,387.1 305.3,386.2 308.6,386.6 311.8,387.6 315.0,388.4 318.2,387.1 321.4,386.6 324.6,387.8 327.8,387.8 331.0,388.0 334.2,387.4 337.4,388.5 340.6,387.4 343.8,388.3 347.1,387.7 350.3,388.3 353.5,388.6 356.7,389.4 359.9,389.0 363.1,388.8 366.3,388.2" fill="none" stroke="#0c0c0c" stroke-width="1.45" stroke-linejoin="round" stroke-dasharray="2.6,1.0"/>
<polyline points="135.3,387.0 138.5,387.6 141.7,386.9 144.9,386.4 148.1,387.1 151.3,387.1 154.6,387.0 157.8,386.1 161.0,386.1 164.2,386.9 167.4,385.8 170.6,386.2 173.8,386.2 177.0,384.7 180.2,384.7 183.4,385.5 186.6,384.7 189.8,384.1 193.1,384.3 196.3,383.4 199.5,382.2 202.7,382.7 205.9,380.2 209.1,378.3 212.3,376.4 215.5,375.1 218.7,371.1 221.9,368.3 225.1,363.1 228.3,358.1 231.6,352.7 234.8,346.9 238.0,339.8 241.2,331.4 244.4,324.8 247.6,316.8 250.8,311.7 254.0,318.9 257.2,326.4 260.4,337.3 263.6,344.7 266.8,355.2 270.1,362.0 273.3,365.6 276.5,370.3 279.7,374.6 282.9,377.3 286.1,380.6 289.3,381.5 292.5,383.0 295.7,383.4 298.9,383.4 302.1,384.4 305.3,384.5 308.6,385.4 311.8,385.5 315.0,385.3 318.2,385.7 321.4,384.8 324.6,386.3 327.8,384.7 331.0,386.7 334.2,385.5 337.4,386.8 340.6,385.4 343.8,386.5 347.1,386.4 350.3,386.3 353.5,387.3 356.7,387.6 359.9,388.3 363.1,386.3 366.3,387.6" fill="none" stroke="#0c0c0c" stroke-width="1.2" stroke-linejoin="round"/>
<polyline points="135.3,386.0 138.5,385.7 141.7,384.3 144.9,386.6 148.1,385.3 151.3,385.6 154.6,384.9 157.8,386.3 161.0,385.3 164.2,384.4 167.4,383.8 170.6,383.6 173.8,385.1 177.0,384.4 180.2,384.5 183.4,385.2 186.6,385.3 189.8,383.9 193.1,384.2 196.3,384.3 199.5,383.3 202.7,384.4 205.9,383.0 209.1,382.7 212.3,381.7 215.5,380.0 218.7,378.3 221.9,375.7 225.1,372.4 228.3,367.1 231.6,363.2 234.8,355.9 238.0,348.5 241.2,340.3 244.4,330.0 247.6,321.5 250.8,313.3 254.0,318.9 257.2,324.7 260.4,330.0 263.6,334.2 266.8,337.2 270.1,339.1 273.3,341.7 276.5,345.2 279.7,349.1 282.9,355.4 286.1,362.4 289.3,366.5 292.5,370.9 295.7,374.1 298.9,374.7 302.1,376.8 305.3,377.1 308.6,376.8 311.8,378.5 315.0,377.9 318.2,378.9 321.4,376.3 324.6,374.1 327.8,372.5 331.0,377.2 334.2,380.2 337.4,380.9 340.6,381.9 343.8,383.9 347.1,382.7 350.3,383.1 353.5,384.3 356.7,383.5 359.9,385.3 363.1,385.0 366.3,384.4" fill="none" stroke="#f41414" stroke-width="1.45" stroke-linejoin="round" stroke-dasharray="2.6,1.0"/>
<polyline points="135.3,387.9 138.5,387.9 141.7,389.4 144.9,389.6 148.1,388.3 151.3,389.4 154.6,388.5 157.8,389.1 161.0,387.5 164.2,387.5 167.4,387.6 170.6,387.8 173.8,387.7 177.0,387.8 180.2,387.3 183.4,387.4 186.6,387.3 189.8,387.8 193.1,386.3 196.3,387.3 199.5,386.4 202.7,386.2 205.9,387.2 209.1,387.1 212.3,384.3 215.5,384.1 218.7,382.1 221.9,380.0 225.1,376.8 228.3,373.8 231.6,368.3 234.8,362.7 238.0,355.5 241.2,349.0 244.4,338.3 247.6,330.0 250.8,325.0 254.0,328.3 257.2,333.3 260.4,338.1 263.6,342.6 266.8,344.5 270.1,347.1 273.3,349.5 276.5,352.0 279.7,355.5 282.9,361.9 286.1,366.7 289.3,371.3 292.5,375.1 295.7,377.1 298.9,379.2 302.1,379.9 305.3,380.9 308.6,381.3 311.8,382.3 315.0,382.1 318.2,382.5 321.4,381.6 324.6,377.8 327.8,376.7 331.0,380.5 334.2,382.7 337.4,384.4 340.6,385.0 343.8,386.5 347.1,387.5 350.3,386.6 353.5,387.1 356.7,387.1 359.9,387.6 363.1,387.3 366.3,388.4" fill="none" stroke="#f41414" stroke-width="1.45" stroke-linejoin="round" stroke-dasharray="2.6,1.0"/>
<polyline points="135.3,386.8 138.5,387.7 141.7,388.6 144.9,387.4 148.1,386.1 151.3,388.0 154.6,386.2 157.8,387.1 161.0,386.8 164.2,386.4 167.4,386.2 170.6,386.8 173.8,386.0 177.0,385.8 180.2,385.5 183.4,386.4 186.6,385.0 189.8,384.7 193.1,384.4 196.3,386.7 199.5,385.6 202.7,386.6 205.9,384.8 209.1,384.0 212.3,384.1 215.5,383.1 218.7,380.2 221.9,377.5 225.1,375.2 228.3,370.9 231.6,367.3 234.8,359.9 238.0,352.1 241.2,343.7 244.4,333.7 247.6,326.3 250.8,320.3 254.0,322.8 257.2,329.2 260.4,334.2 263.6,338.2 266.8,341.2 270.1,342.5 273.3,344.3 276.5,349.2 279.7,352.8 282.9,357.3 286.1,364.8 289.3,369.0 292.5,373.3 295.7,375.9 298.9,376.1 302.1,377.3 305.3,378.7 308.6,378.4 311.8,380.3 315.0,380.3 318.2,379.4 321.4,378.7 324.6,376.4 327.8,374.5 331.0,378.1 334.2,381.0 337.4,382.7 340.6,384.1 343.8,384.7 347.1,385.0 350.3,385.4 353.5,384.8 356.7,385.0 359.9,385.4 363.1,386.2 366.3,386.8" fill="none" stroke="#f41414" stroke-width="1.2" stroke-linejoin="round"/>
<polyline points="135.3,385.1 138.5,385.9 141.7,385.4 144.9,386.6 148.1,385.7 151.3,384.5 154.6,385.9 157.8,386.1 161.0,385.1 164.2,383.8 167.4,383.8 170.6,384.8 173.8,384.7 177.0,384.4 180.2,384.8 183.4,384.1 186.6,384.3 189.8,384.9 193.1,384.2 196.3,383.8 199.5,383.8 202.7,383.4 205.9,381.4 209.1,379.7 212.3,379.7 215.5,377.9 218.7,374.8 221.9,372.2 225.1,368.6 228.3,362.4 231.6,358.1 234.8,351.1 238.0,343.1 241.2,334.5 244.4,324.8 247.6,315.2 250.8,308.1 254.0,314.1 257.2,322.0 260.4,330.3 263.6,336.0 266.8,341.6 270.1,345.0 273.3,347.8 276.5,352.1 279.7,356.9 282.9,362.3 286.1,366.7 289.3,370.6 292.5,374.2 295.7,375.8 298.9,376.1 302.1,378.4 305.3,378.1 308.6,378.9 311.8,377.5 315.0,378.4 318.2,378.7 321.4,378.2 324.6,376.6 327.8,376.2 331.0,379.6 334.2,380.7 337.4,381.6 340.6,383.4 343.8,382.5 347.1,383.0 350.3,384.8 353.5,384.5 356.7,384.7 359.9,385.1 363.1,384.7 366.3,386.0" fill="none" stroke="#f414f4" stroke-width="1.45" stroke-linejoin="round" stroke-dasharray="2.6,1.0"/>
<polyline points="135.3,388.9 138.5,388.6 141.7,388.2 144.9,388.6 148.1,388.7 151.3,388.0 154.6,389.6 157.8,387.7 161.0,388.3 164.2,388.8 167.4,388.1 170.6,388.9 173.8,388.9 177.0,387.7 180.2,387.9 183.4,386.9 186.6,387.9 189.8,388.0 193.1,387.7 196.3,385.8 199.5,386.5 202.7,386.4 205.9,386.0 209.1,385.1 212.3,383.2 215.5,381.2 218.7,378.5 221.9,375.7 225.1,372.7 228.3,368.9 231.6,363.8 234.8,358.5 238.0,350.5 241.2,341.7 244.4,333.7 247.6,325.1 250.8,320.3 254.0,323.8 257.2,331.0 260.4,337.9 263.6,343.5 266.8,349.8 270.1,352.2 273.3,355.6 276.5,357.3 279.7,362.7 282.9,367.5 286.1,371.0 289.3,375.9 292.5,376.9 295.7,380.0 298.9,380.6 302.1,381.8 305.3,381.1 308.6,383.3 311.8,381.8 315.0,383.0 318.2,382.7 321.4,382.9 324.6,380.6 327.8,380.3 331.0,382.0 334.2,384.2 337.4,385.0 340.6,385.2 343.8,386.5 347.1,387.4 350.3,387.9 353.5,387.0 356.7,387.9 359.9,387.3 363.1,388.1 366.3,388.9" fill="none" stroke="#f414f4" stroke-width="1.45" stroke-linejoin="round" stroke-dasharray="2.6,1.0"/>
<polyline points="135.3,386.6 138.5,386.0 141.7,387.2 144.9,387.7 148.1,387.5 151.3,386.4 154.6,387.2 157.8,386.9 161.0,386.1 164.2,386.4 167.4,386.2 170.6,386.5 173.8,386.4 177.0,385.8 180.2,385.8 183.4,385.4 186.6,386.0 189.8,385.4 193.1,385.2 196.3,385.2 199.5,384.5 202.7,383.7 205.9,383.5 209.1,382.6 212.3,381.9 215.5,379.3 218.7,377.2 221.9,374.4 225.1,371.0 228.3,365.5 231.6,358.8 234.8,353.6 238.0,346.2 241.2,337.6 244.4,329.4 247.6,320.4 250.8,314.6 254.0,319.8 257.2,326.5 260.4,333.6 263.6,339.9 266.8,345.2 270.1,348.3 273.3,352.4 276.5,354.9 279.7,359.9 282.9,364.5 286.1,368.6 289.3,372.6 292.5,376.5 295.7,377.7 298.9,378.4 302.1,379.9 305.3,381.2 308.6,380.1 311.8,380.4 315.0,380.4 318.2,380.8 321.4,380.2 324.6,378.6 327.8,377.5 331.0,380.2 334.2,382.3 337.4,383.9 340.6,383.5 343.8,384.8 347.1,384.6 350.3,386.8 353.5,385.6 356.7,386.1 359.9,386.6 363.1,385.7 366.3,386.5" fill="none" stroke="#f414f4" stroke-width="1.2" stroke-linejoin="round"/>
<polyline points="135.3,385.8 138.5,386.0 141.7,384.4 144.9,385.1 148.1,385.0 151.3,385.8 154.6,384.4 157.8,384.8 161.0,385.2 164.2,384.9 167.4,385.7 170.6,384.1 173.8,385.1 177.0,383.8 180.2,384.5 183.4,384.5 186.6,383.8 189.8,383.8 193.1,384.5 196.3,383.5 199.5,382.8 202.7,382.8 205.9,382.7 209.1,381.0 212.3,380.1 215.5,378.0 218.7,375.3 221.9,372.5 225.1,369.0 228.3,365.5 231.6,359.0 234.8,353.2 238.0,346.4 241.2,338.3 244.4,329.1 247.6,323.3 250.8,317.9 254.0,321.3 257.2,329.2 260.4,334.7 263.6,342.2 266.8,346.7 270.1,349.8 273.3,353.2 276.5,357.0 279.7,361.1 282.9,365.8 286.1,370.1 289.3,373.4 292.5,374.9 295.7,376.9 298.9,378.4 302.1,378.9 305.3,379.0 308.6,379.2 311.8,380.3 315.0,380.6 318.2,380.5 321.4,378.6 324.6,378.8 327.8,377.8 331.0,381.3 334.2,381.6 337.4,383.8 340.6,384.0 343.8,384.1 347.1,384.1 350.3,384.2 353.5,384.4 356.7,384.7 359.9,385.3 363.1,383.6 366.3,385.1" fill="none" stroke="#1c8cf4" stroke-width="1.45" stroke-linejoin="round" stroke-dasharray="2.6,1.0"/>
<polyline points="135.3,388.3 138.5,387.4 141.7,388.1 144.9,388.3 148.1,388.3 151.3,387.3 154.6,389.0 157.8,388.8 161.0,388.0 164.2,389.3 167.4,388.3 170.6,387.0 173.8,387.9 177.0,387.4 180.2,387.0 183.4,388.1 186.6,387.1 189.8,387.5 193.1,387.7 196.3,386.9 199.5,386.5 202.7,386.2 205.9,385.7 209.1,383.8 212.3,382.4 215.5,381.2 218.7,379.5 221.9,377.4 225.1,374.1 228.3,370.3 231.6,364.7 234.8,358.7 238.0,352.4 241.2,346.0 244.4,338.9 247.6,331.5 250.8,326.4 254.0,330.6 257.2,336.3 260.4,343.8 263.6,347.5 266.8,354.5 270.1,357.9 273.3,360.8 276.5,363.7 279.7,366.9 282.9,369.4 286.1,374.9 289.3,376.8 292.5,380.0 295.7,381.2 298.9,382.8 302.1,381.4 305.3,383.2 308.6,383.9 311.8,382.4 315.0,384.0 318.2,384.0 321.4,383.9 324.6,383.1 327.8,383.2 331.0,384.0 334.2,384.5 337.4,386.0 340.6,386.7 343.8,386.3 347.1,387.8 350.3,386.7 353.5,387.8 356.7,388.5 359.9,387.7 363.1,388.0 366.3,388.6" fill="none" stroke="#1c8cf4" stroke-width="1.45" stroke-linejoin="round" stroke-dasharray="2.6,1.0"/>
<polyline points="135.3,387.1 138.5,386.6 141.7,386.3 144.9,387.6 148.1,388.6 151.3,385.6 154.6,387.0 157.8,386.9 161.0,386.3 164.2,386.7 167.4,385.6 170.6,386.9 173.8,386.1 177.0,386.7 180.2,384.9 183.4,385.9 186.6,385.0 189.8,384.7 193.1,386.1 196.3,385.3 199.5,384.3 202.7,384.3 205.9,383.7 209.1,382.1 212.3,380.7 215.5,380.0 218.7,377.5 221.9,374.2 225.1,371.1 228.3,366.9 231.6,362.7 234.8,355.1 238.0,349.7 241.2,342.0 244.4,334.5 247.6,327.0 250.8,321.6 254.0,326.9 257.2,332.7 260.4,338.7 263.6,344.9 266.8,349.4 270.1,353.2 273.3,356.8 276.5,359.1 279.7,364.5 282.9,368.0 286.1,371.5 289.3,375.2 292.5,378.4 295.7,380.0 298.9,379.3 302.1,381.5 305.3,381.4 308.6,381.4 311.8,382.0 315.0,383.4 318.2,383.6 321.4,382.1 324.6,381.3 327.8,380.6 331.0,382.1 334.2,383.7 337.4,385.4 340.6,386.0 343.8,384.7 347.1,386.0 350.3,386.7 353.5,387.4 356.7,386.1 359.9,387.4 363.1,387.4 366.3,386.5" fill="none" stroke="#1c8cf4" stroke-width="1.2" stroke-linejoin="round"/>
</g>
<rect x="135.3" y="272.6" width="231.0" height="117.8" fill="none" stroke="#1a1a1a" stroke-width="0.7"/>
<path d="M135.3,390.4 v-2.3 M135.3,272.6 v2.3" stroke="#1a1a1a" stroke-width="0.7"/>
<text x="135.3" y="404.2" transform="rotate(0.03 135.3 404.2)" font-size="10.4" fill="#0a0a0a" text-anchor="middle">-180</text>
<path d="M193.1,390.4 v-2.3 M193.1,272.6 v2.3" stroke="#1a1a1a" stroke-width="0.7"/>
<text x="193.1" y="404.2" transform="rotate(0.03 193.1 404.2)" font-size="10.4" fill="#0a0a0a" text-anchor="middle">-90</text>
<path d="M250.8,390.4 v-2.3 M250.8,272.6 v2.3" stroke="#1a1a1a" stroke-width="0.7"/>
<text x="250.8" y="404.2" transform="rotate(0.03 250.8 404.2)" font-size="10.4" fill="#0a0a0a" text-anchor="middle">0</text>
<path d="M308.6,390.4 v-2.3 M308.6,272.6 v2.3" stroke="#1a1a1a" stroke-width="0.7"/>
<text x="308.6" y="404.2" transform="rotate(0.03 308.6 404.2)" font-size="10.4" fill="#0a0a0a" text-anchor="middle">90</text>
<path d="M366.3,390.4 v-2.3 M366.3,272.6 v2.3" stroke="#1a1a1a" stroke-width="0.7"/>
<text x="366.3" y="404.2" transform="rotate(0.03 366.3 404.2)" font-size="10.4" fill="#0a0a0a" text-anchor="middle">180</text>
<path d="M135.3,390.4 h2.3 M366.3,390.4 h-2.3" stroke="#1a1a1a" stroke-width="0.7"/>
<text x="132" y="394.0" transform="rotate(0.03 132 394.0)" font-size="10.4" fill="#0a0a0a" text-anchor="end">0</text>
<path d="M135.3,351.1 h2.3 M366.3,351.1 h-2.3" stroke="#1a1a1a" stroke-width="0.7"/>
<text x="132" y="354.7" transform="rotate(0.03 132 354.7)" font-size="10.4" fill="#0a0a0a" text-anchor="end">0.1</text>
<path d="M135.3,311.9 h2.3 M366.3,311.9 h-2.3" stroke="#1a1a1a" stroke-width="0.7"/>
<text x="132" y="315.5" transform="rotate(0.03 132 315.5)" font-size="10.4" fill="#0a0a0a" text-anchor="end">0.2</text>
<text x="279.6" y="269.3" transform="rotate(0.03 279.6 269.3)" font-size="10.6" fill="#0a0a0a" text-anchor="middle">Similar Probe (45°)</text>
<text x="251" y="420" transform="rotate(0.03 251 420)" font-size="10.5" fill="#0a0a0a" text-anchor="middle">Signed Response Offset (°)</text>
<text transform="translate(106.6,332.3) rotate(-90)" font-size="10.4" fill="#0a0a0a" text-anchor="middle">Response Proportion</text>
<rect x="139.4" y="281.7" width="5.2" height="1.6" fill="#0c0c0c"/>
<text x="146.6" y="285.4" transform="rotate(0.03 146.6 285.4)" font-size="8.3" fill="#0a0a0a" text-anchor="start" stroke="#0a0a0a" stroke-width="0.04">VWM</text>
<rect x="139.4" y="291.8" width="5.2" height="1.6" fill="#f41414"/>
<text x="146.6" y="295.5" transform="rotate(0.03 146.6 295.5)" font-size="8.3" fill="#0a0a0a" text-anchor="start" stroke="#0a0a0a" stroke-width="0.04">Retrieval practice</text>
<rect x="139.4" y="302.2" width="5.2" height="1.6" fill="#f414f4"/>
<text x="146.6" y="305.9" transform="rotate(0.03 146.6 305.9)" font-size="8.3" fill="#0a0a0a" text-anchor="start" stroke="#0a0a0a" stroke-width="0.04">Final Recall (practiced)</text>
<rect x="139.4" y="311.4" width="5.2" height="1.6" fill="#1c8cf4"/>
<text x="146.6" y="315.1" transform="rotate(0.03 146.6 315.1)" font-size="8.3" fill="#0a0a0a" text-anchor="start" stroke="#0a0a0a" stroke-width="0.04">Final Recall (unpracticed)</text>
<rect x="477" y="279.1" width="69.7" height="118.7" fill="none" stroke="#1a1a1a" stroke-width="0.7"/>
<path d="M488.25,284.70 L488.24,285.23 L488.23,285.76 L488.22,286.29 L488.21,286.82 L488.20,287.36 L488.19,287.89 L488.18,288.42 L488.17,288.95 L488.16,289.48 L488.15,290.01 L488.14,290.54 L488.13,291.07 L488.12,291.61 L488.11,292.14 L488.10,292.67 L488.09,293.20 L488.08,293.73 L488.07,294.26 L488.06,294.79 L488.05,295.32 L488.04,295.86 L488.02,296.39 L488.01,296.92 L487.99,297.45 L487.95,297.98 L487.89,298.51 L487.82,299.04 L487.75,299.57 L487.68,300.11 L487.61,300.64 L487.54,301.17 L487.47,301.70 L487.40,302.23 L487.31,302.76 L487.20,303.29 L487.08,303.82 L486.94,304.36 L486.80,304.89 L486.66,305.42 L486.52,305.95 L486.38,306.48 L486.24,307.01 L486.10,307.54 L485.94,308.07 L485.77,308.61 L485.59,309.14 L485.40,309.67 L485.20,310.20 L485.01,310.73 L484.82,311.26 L484.62,311.79 L484.43,312.32 L484.23,312.86 L484.04,313.39 L483.84,313.92 L483.65,314.45 L483.46,314.98 L483.28,315.51 L483.12,316.04 L482.96,316.57 L482.81,317.11 L482.66,317.64 L482.50,318.17 L482.35,318.70 L482.20,319.23 L482.04,319.76 L481.89,320.29 L481.75,320.82 L481.64,321.36 L481.55,321.89 L481.48,322.42 L481.42,322.95 L481.37,323.48 L481.31,324.01 L481.26,324.54 L481.20,325.07 L481.17,325.61 L481.18,326.14 L481.23,326.67 L481.30,327.20 L481.39,327.73 L481.48,328.26 L481.57,328.79 L481.65,329.32 L481.74,329.86 L481.84,330.39 L481.95,330.92 L482.08,331.45 L482.22,331.98 L482.36,332.51 L482.50,333.04 L482.64,333.57 L482.79,334.11 L482.93,334.64 L483.07,335.17 L483.21,335.70 L483.36,336.23 L483.50,336.76 L483.64,337.29 L483.78,337.82 L483.93,338.36 L484.07,338.89 L484.22,339.42 L484.37,339.95 L484.52,340.48 L484.67,341.01 L484.82,341.54 L484.97,342.07 L485.12,342.61 L485.27,343.14 L485.42,343.67 L485.56,344.20 L485.71,344.73 L485.86,345.26 L486.01,345.79 L486.16,346.32 L486.31,346.86 L486.46,347.39 L486.60,347.92 L486.75,348.45 L486.90,348.98 L487.04,349.51 L487.19,350.04 L487.32,350.57 L487.45,351.11 L487.56,351.64 L487.66,352.17 L487.76,352.70 L487.86,353.23 L487.95,353.76 L488.03,354.29 L488.09,354.82 L488.13,355.36 L488.16,355.89 L488.18,356.42 L488.20,356.95 L488.22,357.48 L488.24,358.01 L488.25,358.54 L488.25,359.07 L488.25,359.61 L488.25,360.14 L488.25,360.67 L488.25,361.20 L488.25,361.73 L488.25,362.26 L488.25,362.79 L488.25,363.32 L488.25,363.86 L488.25,364.39 L488.25,364.92 L488.25,365.45 L488.25,365.98 L488.25,366.51 L488.25,367.04 L488.25,367.57 L488.25,368.11 L488.25,368.64 L488.25,369.17 L488.25,369.70 L488.35,369.70 L488.35,369.17 L488.35,368.64 L488.35,368.11 L488.35,367.57 L488.35,367.04 L488.35,366.51 L488.35,365.98 L488.35,365.45 L488.35,364.92 L488.35,364.39 L488.35,363.86 L488.35,363.32 L488.35,362.79 L488.35,362.26 L488.35,361.73 L488.35,361.20 L488.35,360.67 L488.35,360.14 L488.35,359.61 L488.35,359.07 L488.35,358.54 L488.36,358.01 L488.38,357.48 L488.40,356.95 L488.42,356.42 L488.44,355.89 L488.47,355.36 L488.51,354.82 L488.57,354.29 L488.65,353.76 L488.74,353.23 L488.84,352.70 L488.94,352.17 L489.04,351.64 L489.15,351.11 L489.28,350.57 L489.41,350.04 L489.56,349.51 L489.70,348.98 L489.85,348.45 L490.00,347.92 L490.14,347.39 L490.29,346.86 L490.44,346.32 L490.59,345.79 L490.74,345.26 L490.89,344.73 L491.04,344.20 L491.18,343.67 L491.33,343.14 L491.48,342.61 L491.63,342.07 L491.78,341.54 L491.93,341.01 L492.08,340.48 L492.23,339.95 L492.38,339.42 L492.53,338.89 L492.67,338.36 L492.82,337.82 L492.96,337.29 L493.10,336.76 L493.24,336.23 L493.39,335.70 L493.53,335.17 L493.67,334.64 L493.81,334.11 L493.96,333.57 L494.10,333.04 L494.24,332.51 L494.38,331.98 L494.52,331.45 L494.65,330.92 L494.76,330.39 L494.86,329.86 L494.95,329.32 L495.03,328.79 L495.12,328.26 L495.21,327.73 L495.30,327.20 L495.37,326.67 L495.42,326.14 L495.43,325.61 L495.40,325.07 L495.34,324.54 L495.29,324.01 L495.23,323.48 L495.18,322.95 L495.12,322.42 L495.05,321.89 L494.96,321.36 L494.85,320.82 L494.71,320.29 L494.56,319.76 L494.40,319.23 L494.25,318.70 L494.10,318.17 L493.94,317.64 L493.79,317.11 L493.64,316.57 L493.48,316.04 L493.32,315.51 L493.14,314.98 L492.95,314.45 L492.76,313.92 L492.56,313.39 L492.37,312.86 L492.17,312.32 L491.98,311.79 L491.78,311.26 L491.59,310.73 L491.40,310.20 L491.20,309.67 L491.01,309.14 L490.83,308.61 L490.66,308.07 L490.50,307.54 L490.36,307.01 L490.22,306.48 L490.08,305.95 L489.94,305.42 L489.80,304.89 L489.66,304.36 L489.52,303.82 L489.40,303.29 L489.29,302.76 L489.20,302.23 L489.13,301.70 L489.06,301.17 L488.99,300.64 L488.92,300.11 L488.85,299.57 L488.78,299.04 L488.71,298.51 L488.65,297.98 L488.61,297.45 L488.59,296.92 L488.58,296.39 L488.56,295.86 L488.55,295.32 L488.54,294.79 L488.53,294.26 L488.52,293.73 L488.51,293.20 L488.50,292.67 L488.49,292.14 L488.48,291.61 L488.47,291.07 L488.46,290.54 L488.45,290.01 L488.44,289.48 L488.43,288.95 L488.42,288.42 L488.41,287.89 L488.40,287.36 L488.39,286.82 L488.38,286.29 L488.37,285.76 L488.36,285.23 L488.35,284.70Z" fill="#fa0a0a" stroke="#0a0a0a" stroke-width="0.7" stroke-linejoin="round"/><line x1="481.4" y1="327.7" x2="495.2" y2="327.7" stroke="#0a0a0a" stroke-width="0.75"/>
<path d="M511.35,295.30 L511.34,295.79 L511.32,296.29 L511.31,296.78 L511.29,297.28 L511.28,297.77 L511.26,298.27 L511.25,298.76 L511.23,299.25 L511.22,299.75 L511.20,300.24 L511.19,300.74 L511.17,301.23 L511.16,301.73 L511.14,302.22 L511.12,302.72 L511.09,303.21 L511.03,303.70 L510.95,304.20 L510.84,304.69 L510.72,305.19 L510.60,305.68 L510.48,306.18 L510.36,306.67 L510.25,307.17 L510.13,307.66 L510.01,308.15 L509.89,308.65 L509.77,309.14 L509.65,309.64 L509.54,310.13 L509.42,310.63 L509.31,311.12 L509.19,311.61 L509.08,312.11 L508.97,312.60 L508.86,313.10 L508.75,313.59 L508.64,314.09 L508.53,314.58 L508.41,315.07 L508.30,315.57 L508.19,316.06 L508.08,316.56 L507.97,317.05 L507.85,317.55 L507.72,318.04 L507.59,318.54 L507.45,319.03 L507.31,319.52 L507.17,320.02 L507.04,320.51 L506.90,321.01 L506.76,321.50 L506.62,322.00 L506.48,322.49 L506.34,322.99 L506.20,323.48 L506.06,323.97 L505.92,324.47 L505.79,324.96 L505.66,325.46 L505.53,325.95 L505.41,326.45 L505.28,326.94 L505.16,327.43 L505.03,327.93 L504.90,328.42 L504.78,328.92 L504.65,329.41 L504.53,329.91 L504.42,330.40 L504.35,330.89 L504.30,331.39 L504.29,331.88 L504.28,332.38 L504.27,332.87 L504.27,333.37 L504.28,333.86 L504.32,334.36 L504.40,334.85 L504.51,335.34 L504.63,335.84 L504.75,336.33 L504.87,336.83 L504.99,337.32 L505.11,337.82 L505.24,338.31 L505.37,338.81 L505.52,339.30 L505.68,339.79 L505.85,340.29 L506.03,340.78 L506.20,341.28 L506.38,341.77 L506.55,342.27 L506.72,342.76 L506.90,343.25 L507.07,343.75 L507.25,344.24 L507.42,344.74 L507.59,345.23 L507.76,345.73 L507.93,346.22 L508.09,346.71 L508.24,347.21 L508.40,347.70 L508.55,348.20 L508.70,348.69 L508.86,349.19 L509.01,349.68 L509.16,350.18 L509.32,350.67 L509.47,351.16 L509.62,351.66 L509.78,352.15 L509.93,352.65 L510.07,353.14 L510.20,353.64 L510.33,354.13 L510.45,354.62 L510.57,355.12 L510.69,355.61 L510.81,356.11 L510.93,356.60 L511.03,357.10 L511.12,357.59 L511.17,358.09 L511.21,358.58 L511.24,359.07 L511.27,359.57 L511.30,360.06 L511.32,360.56 L511.34,361.05 L511.35,361.55 L511.35,362.04 L511.35,362.53 L511.35,363.03 L511.35,363.52 L511.35,364.02 L511.35,364.51 L511.35,365.01 L511.35,365.50 L511.35,366.00 L511.35,366.49 L511.35,366.98 L511.35,367.48 L511.35,367.97 L511.35,368.47 L511.35,368.96 L511.35,369.46 L511.35,369.95 L511.35,370.44 L511.35,370.94 L511.35,371.43 L511.35,371.93 L511.35,372.42 L511.35,372.92 L511.35,373.41 L511.35,373.91 L511.35,374.40 L511.45,374.40 L511.45,373.91 L511.45,373.41 L511.45,372.92 L511.45,372.42 L511.45,371.93 L511.45,371.43 L511.45,370.94 L511.45,370.44 L511.45,369.95 L511.45,369.46 L511.45,368.96 L511.45,368.47 L511.45,367.97 L511.45,367.48 L511.45,366.98 L511.45,366.49 L511.45,366.00 L511.45,365.50 L511.45,365.01 L511.45,364.51 L511.45,364.02 L511.45,363.52 L511.45,363.03 L511.45,362.53 L511.45,362.04 L511.45,361.55 L511.46,361.05 L511.48,360.56 L511.50,360.06 L511.53,359.57 L511.56,359.07 L511.59,358.58 L511.63,358.09 L511.68,357.59 L511.77,357.10 L511.87,356.60 L511.99,356.11 L512.11,355.61 L512.23,355.12 L512.35,354.62 L512.47,354.13 L512.60,353.64 L512.73,353.14 L512.87,352.65 L513.02,352.15 L513.18,351.66 L513.33,351.16 L513.48,350.67 L513.64,350.18 L513.79,349.68 L513.94,349.19 L514.10,348.69 L514.25,348.20 L514.40,347.70 L514.56,347.21 L514.71,346.71 L514.87,346.22 L515.04,345.73 L515.21,345.23 L515.38,344.74 L515.55,344.24 L515.73,343.75 L515.90,343.25 L516.08,342.76 L516.25,342.27 L516.42,341.77 L516.60,341.28 L516.77,340.78 L516.95,340.29 L517.12,339.79 L517.28,339.30 L517.43,338.81 L517.56,338.31 L517.69,337.82 L517.81,337.32 L517.93,336.83 L518.05,336.33 L518.17,335.84 L518.29,335.34 L518.40,334.85 L518.48,334.36 L518.52,333.86 L518.53,333.37 L518.53,332.87 L518.52,332.38 L518.51,331.88 L518.50,331.39 L518.45,330.89 L518.38,330.40 L518.27,329.91 L518.15,329.41 L518.02,328.92 L517.90,328.42 L517.77,327.93 L517.64,327.43 L517.52,326.94 L517.39,326.45 L517.27,325.95 L517.14,325.46 L517.01,324.96 L516.88,324.47 L516.74,323.97 L516.60,323.48 L516.46,322.99 L516.32,322.49 L516.18,322.00 L516.04,321.50 L515.90,321.01 L515.76,320.51 L515.62,320.02 L515.49,319.52 L515.35,319.03 L515.21,318.54 L515.08,318.04 L514.95,317.55 L514.83,317.05 L514.72,316.56 L514.61,316.06 L514.50,315.57 L514.39,315.07 L514.27,314.58 L514.16,314.09 L514.05,313.59 L513.94,313.10 L513.83,312.60 L513.72,312.11 L513.61,311.61 L513.49,311.12 L513.38,310.63 L513.26,310.13 L513.15,309.64 L513.03,309.14 L512.91,308.65 L512.79,308.15 L512.67,307.66 L512.55,307.17 L512.44,306.67 L512.32,306.18 L512.20,305.68 L512.08,305.19 L511.96,304.69 L511.85,304.20 L511.77,303.70 L511.71,303.21 L511.68,302.72 L511.66,302.22 L511.64,301.73 L511.63,301.23 L511.61,300.74 L511.60,300.24 L511.58,299.75 L511.57,299.25 L511.55,298.76 L511.54,298.27 L511.52,297.77 L511.51,297.28 L511.49,296.78 L511.48,296.29 L511.46,295.79 L511.45,295.30Z" fill="#fa0afa" stroke="#0a0a0a" stroke-width="0.7" stroke-linejoin="round"/><line x1="504.3" y1="332.4" x2="518.5" y2="332.4" stroke="#0a0a0a" stroke-width="0.75"/>
<path d="M534.45,295.30 L534.44,295.79 L534.42,296.29 L534.41,296.78 L534.39,297.28 L534.38,297.77 L534.36,298.27 L534.35,298.76 L534.33,299.25 L534.32,299.75 L534.30,300.24 L534.29,300.74 L534.27,301.23 L534.26,301.73 L534.24,302.22 L534.22,302.72 L534.19,303.21 L534.14,303.70 L534.06,304.20 L533.95,304.69 L533.84,305.19 L533.73,305.68 L533.62,306.18 L533.51,306.67 L533.40,307.17 L533.29,307.66 L533.17,308.15 L533.06,308.65 L532.95,309.14 L532.84,309.64 L532.72,310.13 L532.58,310.63 L532.43,311.12 L532.25,311.61 L532.06,312.11 L531.87,312.60 L531.68,313.10 L531.49,313.59 L531.30,314.09 L531.11,314.58 L530.92,315.07 L530.73,315.57 L530.54,316.06 L530.35,316.56 L530.16,317.05 L529.96,317.55 L529.77,318.04 L529.58,318.54 L529.38,319.03 L529.19,319.52 L529.00,320.02 L528.81,320.51 L528.63,321.01 L528.47,321.50 L528.33,322.00 L528.20,322.49 L528.07,322.99 L527.94,323.48 L527.82,323.97 L527.69,324.47 L527.57,324.96 L527.46,325.46 L527.40,325.95 L527.40,326.45 L527.44,326.94 L527.51,327.43 L527.58,327.93 L527.65,328.42 L527.73,328.92 L527.80,329.41 L527.87,329.91 L527.95,330.40 L528.05,330.89 L528.17,331.39 L528.30,331.88 L528.44,332.38 L528.58,332.87 L528.72,333.37 L528.86,333.86 L529.00,334.36 L529.14,334.85 L529.27,335.34 L529.41,335.84 L529.55,336.33 L529.69,336.83 L529.83,337.32 L529.97,337.82 L530.11,338.31 L530.25,338.81 L530.38,339.30 L530.52,339.79 L530.66,340.29 L530.80,340.78 L530.94,341.28 L531.08,341.77 L531.22,342.27 L531.36,342.76 L531.50,343.25 L531.64,343.75 L531.78,344.24 L531.92,344.74 L532.05,345.23 L532.19,345.73 L532.31,346.22 L532.42,346.71 L532.52,347.21 L532.62,347.70 L532.71,348.20 L532.81,348.69 L532.91,349.19 L533.01,349.68 L533.10,350.18 L533.20,350.67 L533.30,351.16 L533.40,351.66 L533.49,352.15 L533.59,352.65 L533.68,353.14 L533.76,353.64 L533.83,354.13 L533.90,354.62 L533.97,355.12 L534.04,355.61 L534.11,356.11 L534.17,356.60 L534.23,357.10 L534.28,357.59 L534.32,358.09 L534.35,358.58 L534.37,359.07 L534.39,359.57 L534.41,360.06 L534.43,360.56 L534.44,361.05 L534.45,361.55 L534.45,362.04 L534.45,362.53 L534.45,363.03 L534.45,363.52 L534.45,364.02 L534.45,364.51 L534.45,365.01 L534.45,365.50 L534.45,366.00 L534.45,366.49 L534.45,366.98 L534.45,367.48 L534.45,367.97 L534.45,368.47 L534.45,368.96 L534.45,369.46 L534.45,369.95 L534.45,370.44 L534.45,370.94 L534.45,371.43 L534.45,371.93 L534.45,372.42 L534.45,372.92 L534.45,373.41 L534.45,373.91 L534.45,374.40 L534.55,374.40 L534.55,373.91 L534.55,373.41 L534.55,372.92 L534.55,372.42 L534.55,371.93 L534.55,371.43 L534.55,370.94 L534.55,370.44 L534.55,369.95 L534.55,369.46 L534.55,368.96 L534.55,368.47 L534.55,367.97 L534.55,367.48 L534.55,366.98 L534.55,366.49 L534.55,366.00 L534.55,365.50 L534.55,365.01 L534.55,364.51 L534.55,364.02 L534.55,363.52 L534.55,363.03 L534.55,362.53 L534.55,362.04 L534.55,361.55 L534.56,361.05 L534.57,360.56 L534.59,360.06 L534.61,359.57 L534.63,359.07 L534.65,358.58 L534.68,358.09 L534.72,357.59 L534.77,357.10 L534.83,356.60 L534.89,356.11 L534.96,355.61 L535.03,355.12 L535.10,354.62 L535.17,354.13 L535.24,353.64 L535.32,353.14 L535.41,352.65 L535.51,352.15 L535.60,351.66 L535.70,351.16 L535.80,350.67 L535.90,350.18 L535.99,349.68 L536.09,349.19 L536.19,348.69 L536.29,348.20 L536.38,347.70 L536.48,347.21 L536.58,346.71 L536.69,346.22 L536.81,345.73 L536.95,345.23 L537.08,344.74 L537.22,344.24 L537.36,343.75 L537.50,343.25 L537.64,342.76 L537.78,342.27 L537.92,341.77 L538.06,341.28 L538.20,340.78 L538.34,340.29 L538.48,339.79 L538.62,339.30 L538.75,338.81 L538.89,338.31 L539.03,337.82 L539.17,337.32 L539.31,336.83 L539.45,336.33 L539.59,335.84 L539.73,335.34 L539.86,334.85 L540.00,334.36 L540.14,333.86 L540.28,333.37 L540.42,332.87 L540.56,332.38 L540.70,331.88 L540.83,331.39 L540.95,330.89 L541.05,330.40 L541.13,329.91 L541.20,329.41 L541.27,328.92 L541.35,328.42 L541.42,327.93 L541.49,327.43 L541.56,326.94 L541.60,326.45 L541.60,325.95 L541.54,325.46 L541.43,324.96 L541.31,324.47 L541.18,323.97 L541.06,323.48 L540.93,322.99 L540.80,322.49 L540.67,322.00 L540.53,321.50 L540.37,321.01 L540.19,320.51 L540.00,320.02 L539.81,319.52 L539.62,319.03 L539.42,318.54 L539.23,318.04 L539.04,317.55 L538.84,317.05 L538.65,316.56 L538.46,316.06 L538.27,315.57 L538.08,315.07 L537.89,314.58 L537.70,314.09 L537.51,313.59 L537.32,313.10 L537.13,312.60 L536.94,312.11 L536.75,311.61 L536.57,311.12 L536.42,310.63 L536.28,310.13 L536.16,309.64 L536.05,309.14 L535.94,308.65 L535.83,308.15 L535.71,307.66 L535.60,307.17 L535.49,306.67 L535.38,306.18 L535.27,305.68 L535.16,305.19 L535.05,304.69 L534.94,304.20 L534.86,303.70 L534.81,303.21 L534.78,302.72 L534.76,302.22 L534.74,301.73 L534.73,301.23 L534.71,300.74 L534.70,300.24 L534.68,299.75 L534.67,299.25 L534.65,298.76 L534.64,298.27 L534.62,297.77 L534.61,297.28 L534.59,296.78 L534.58,296.29 L534.56,295.79 L534.55,295.30Z" fill="#0a8cfa" stroke="#0a0a0a" stroke-width="0.7" stroke-linejoin="round"/><line x1="528.1" y1="331.2" x2="540.9" y2="331.2" stroke="#0a0a0a" stroke-width="0.75"/>
<line x1="483" y1="339.2" x2="546.7" y2="339.2" stroke="#0a0a0a" stroke-width="1.0" stroke-dasharray="6,6.4"/>
<text x="473" y="289.1" transform="rotate(0.03 473 289.1)" font-size="10.4" fill="#0a0a0a" text-anchor="end">90</text>
<text x="473" y="315.9" transform="rotate(0.03 473 315.9)" font-size="10.4" fill="#0a0a0a" text-anchor="end">45</text>
<text x="473" y="342.8" transform="rotate(0.03 473 342.8)" font-size="10.4" fill="#0a0a0a" text-anchor="end">0</text>
<text x="473" y="369.7" transform="rotate(0.03 473 369.7)" font-size="10.4" fill="#0a0a0a" text-anchor="end">-45</text>
<text x="473" y="396.5" transform="rotate(0.03 473 396.5)" font-size="10.4" fill="#0a0a0a" text-anchor="end">-90</text>
<text transform="translate(446.2,339.3) rotate(-90)" font-size="10.6" fill="#0a0a0a" text-anchor="middle">Bias Magnitude (°)</text>
</g></svg></body></html>
